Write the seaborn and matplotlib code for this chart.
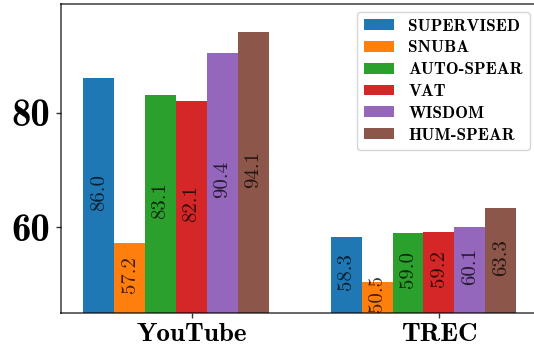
import matplotlib
matplotlib.use("Agg")
import matplotlib.pyplot as plt
import seaborn as sns
import pandas as pd

datasets = ["YouTube", "TREC"]
methods = ["SUPERVISED", "SNUBA", "AUTO-SPEAR", "VAT", "WISDOM", "HUM-SPEAR"]
youtube_scores = [86.0, 57.2, 83.1, 82.1, 90.4, 94.1]
trec_scores = [58.3, 50.5, 59.0, 59.2, 60.1, 63.3]
colors = ["#1f77b4", "#ff7f0e", "#2ca02c", "#d62728", "#9467bd", "#8c564b"]
y_ticks = [60, 80]

rows = []
for m, yv, tv in zip(methods, youtube_scores, trec_scores):
    rows.append({"dataset": "YouTube", "method": m, "score": yv})
    rows.append({"dataset": "TREC", "method": m, "score": tv})
df = pd.DataFrame(rows)

plt.rcParams["axes.formatter.use_mathtext"] = True
fig = plt.figure(figsize=(5.34, 3.47), dpi=100)
ax = fig.add_axes([0.1142, 0.098, 0.892, 0.8905])

width = 0.75
sns.barplot(data=df, x="dataset", y="score", hue="method", order=datasets,
            hue_order=methods, palette=colors, saturation=1, width=width,
            errorbar=None, ax=ax, zorder=1)

ymin, ymax = 45, 99
ax.set_ylim(ymin, ymax)
ax.set_xlim(-0.465, 1.46)

for cont in ax.containers:
    for bar in cont:
        h = bar.get_height()
        cx = bar.get_x() + bar.get_width() / 2
        ax.text(cx, (h + ymin) / 2 + 0.6, f"{h:.1f}", rotation=90,
                ha="center", va="center", fontfamily="cmr10", fontsize=15,
                color="black", alpha=0.75, zorder=3)

bw = width / len(methods)
ax.set_xticks([i + bw / 2 for i in range(len(datasets))])
ax.set_xticklabels(datasets, fontfamily="cmb10", fontsize=19.5)
ax.set_yticks(y_ticks)
ax.set_yticklabels([str(v) for v in y_ticks], fontfamily="cmb10", fontsize=28)
ax.set_xlabel("")
ax.set_ylabel("")
ax.tick_params(axis="both", length=3.5, width=1, color="#333333")
ax.tick_params(axis="y", pad=4)

for sp in ax.spines.values():
    sp.set_color((0, 0, 0, 0.65))
    sp.set_linewidth(1.3)

leg = ax.legend(loc="upper right", prop={"family": "cmb10", "size": 12.3},
                frameon=True, title=None, labelspacing=0.4,
                handleheight=0.6, handlelength=1.8, borderaxespad=0.45)

fig.savefig("out.png", dpi=100)
